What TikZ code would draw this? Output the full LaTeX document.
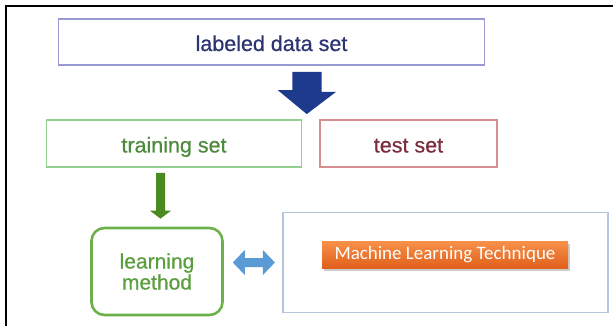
\documentclass[tikz,border=0pt]{standalone}
\usepackage{fontspec}
\setmainfont{Liberation Sans}
\newfontfamily\boxfont{Liberation Sans}[FakeBold=0.6]
\newfontfamily\calibrifont{Carlito}
\usetikzlibrary{shadows,calc}

\definecolor{frameblack}{HTML}{000000}
\definecolor{ldsedge}{HTML}{9A9AD2}
\definecolor{ldstext}{HTML}{2B3470}
\definecolor{navyarrow}{HTML}{1E3A8C}
\definecolor{trainedge}{HTML}{92D092}
\definecolor{traintext}{HTML}{4E8A3E}
\definecolor{testedge}{HTML}{D88E8E}
\definecolor{testtext}{HTML}{7A2E3E}
\definecolor{greenarrow}{HTML}{4A8A1E}
\definecolor{learnedge}{HTML}{6CB04A}
\definecolor{learntext}{HTML}{5A9E3E}
\definecolor{dblarrow}{HTML}{5B9BD5}
\definecolor{techedge}{HTML}{B4C6DC}
\definecolor{btntop}{HTML}{F7914A}
\definecolor{btnbot}{HTML}{E0601C}

\tikzset{
  plainbox/.style={draw, line width=1.8pt, rectangle, inner sep=0pt, anchor=center,
                   text height=20pt, text depth=2pt,
                   font=\boxfont\fontsize{21.5}{24}\selectfont},
  roundbox/.style={draw=learnedge, line width=2.6pt, rectangle, rounded corners=13pt,
                   inner sep=0pt, align=center, text=learntext,
                   font=\boxfont\fontsize{21}{24}\selectfont},
  panelbox/.style={draw=techedge, line width=1.2pt, rectangle, inner sep=0pt},
  button/.style={rectangle, inner sep=0pt, top color=btntop, bottom color=btnbot,
                 text=white, font=\calibrifont\fontsize{19}{22}\selectfont,
                 drop shadow={opacity=0.4, shadow xshift=1.5pt, shadow yshift=-2.5pt}},
}

\begin{document}
\begin{tikzpicture}[x=1pt, y=-1pt]
  \useasboundingbox (0,0) rectangle (613,326);

  % frame: top and left rules only
  \draw[frameblack, line width=2.2pt] (6,326) -- (6,6) -- (613,6);

  % boxes
  \node[plainbox, draw=ldsedge, text=ldstext, minimum width=426pt, minimum height=46pt]
    (lds) at (271.5,42) {labeled data set};
  \node[plainbox, draw=trainedge, text=traintext, minimum width=255pt, minimum height=47pt]
    (train) at (174,143.5) {training set};
  \node[plainbox, draw=testedge, text=testtext, minimum width=177pt, minimum height=47pt]
    (test) at (408.5,143.5) {test set};
  \node[roundbox, minimum width=131pt, minimum height=87pt]
    (learn) at (157,271.5) {learning\\[-3pt]method};
  \node[panelbox, minimum width=325pt, minimum height=100pt]
    (panel) at (445.5,262.5) {};
  \node[button, minimum width=246pt, minimum height=27pt]
    (mlt) at (445,254.5) {Machine Learning Technique};

  % navy block arrow: labeled data set -> split
  \coordinate (ntop) at ($(lds.south)+(35.5,6)$);
  \coordinate (ntip) at ($(train.north east)!0.5!(test.north west)+(-4,-5)$);
  \fill[navyarrow] (ntop) ++(-14.5,0) -- ++(29,0) -- ++(0,20) -- ++(14.5,0)
    -- (ntip) -- ($(ntip)+(-29,-24)$) -- ++(14.5,0) -- cycle;

  % green block arrow: training set -> learning method
  \coordinate (gtop) at ($(train.south)+(-13.5,5)$);
  \coordinate (gtip) at ($(learn.north)+(3.5,-8)$);
  \fill[greenarrow] (gtop) ++(-4.5,0) -- ++(9,0) -- ($(gtip)+(4.5,-8)$) -- ++(6,0)
    -- (gtip) -- ($(gtip)+(-10.5,-8)$) -- ++(6,0) -- cycle;

  % light blue double arrow between learning method and panel
  \coordinate (dl) at ($(learn.east)+(9,-9)$);
  \coordinate (dr) at ($(panel.west)+(-7.5,0)$);
  \fill[dblarrow] (dl) -- ++(12,-12.5) -- ++(0,8) -- ($(dr)+(-12,-4.5)$) -- ++(0,-8)
    -- (dr) -- ++(-12,12.5) -- ++(0,-8) -- ($(dl)+(12,4.5)$) -- ++(0,8) -- cycle;
\end{tikzpicture}
\end{document}
